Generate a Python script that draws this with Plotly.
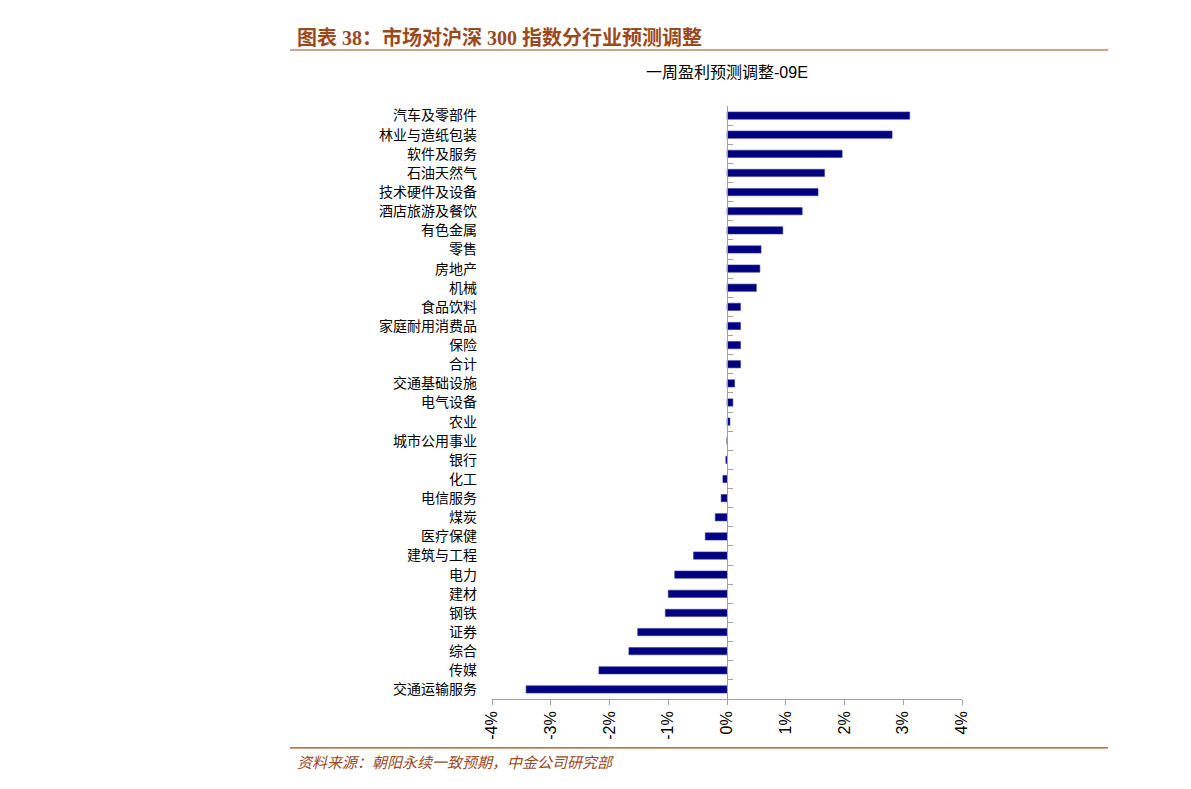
import plotly.graph_objects as go

categories = ["汽车及零部件", "林业与造纸包装", "软件及服务", "石油天然气", "技术硬件及设备",
              "酒店旅游及餐饮", "有色金属", "零售", "房地产", "机械", "食品饮料", "家庭耐用消费品",
              "保险", "合计", "交通基础设施", "电气设备", "农业", "城市公用事业", "银行", "化工",
              "电信服务", "煤炭", "医疗保健", "建筑与工程", "电力", "建材", "钢铁", "证券", "综合",
              "传媒", "交通运输服务"]
values = [3.11, 2.81, 1.96, 1.66, 1.55, 1.28, 0.95, 0.58, 0.56, 0.50, 0.23, 0.23,
          0.23, 0.23, 0.13, 0.10, 0.05, 0.0, -0.02, -0.07, -0.10, -0.20, -0.37, -0.57,
          -0.89, -1.00, -1.05, -1.52, -1.67, -2.18, -3.42]
x_ticks = [-4, -3, -2, -1, 0, 1, 2, 3, 4]
x_ticktext = ["-4%", "-3%", "-2%", "-1%", "0%", "1%", "2%", "3%", "4%"]

W, H = 1191, 789
L, R, T, B = 492, 962, 105.5, 698.6
BROWN = "#9A4A1F"
CJK = "Noto Sans CJK SC"

def px(xp):
    return (xp - L) / (R - L)

def py(yp):
    return (B - yp) / (B - T)

n = len(categories)
fig = go.Figure()
fig.add_trace(go.Bar(x=values, y=categories, orientation="h", width=0.38,
                     marker=dict(color="#000080", line=dict(color="#3a3aa0", width=0.6)),
                     yaxis="y", hoverinfo="skip", showlegend=False))
fig.add_trace(go.Scatter(x=[0] * n, y=categories, mode="markers", marker=dict(opacity=0),
                         yaxis="y2", hoverinfo="skip", showlegend=False))

fig.update_layout(
    width=W, height=H,
    margin=dict(l=L, r=W - R, t=T, b=H - B, autoexpand=False),
    paper_bgcolor="white", plot_bgcolor="white",
    xaxis=dict(range=[-4, 4], tickvals=x_ticks, ticktext=x_ticktext, tickangle=-90,
               showgrid=False, zeroline=False, showline=True, linecolor="#a0a0a0",
               linewidth=1, ticks="outside", ticklen=5, tickcolor="#a0a0a0",
               tickfont=dict(family="Liberation Sans, Arial", size=16, color="black")),
    yaxis=dict(type="category", categoryorder="array", categoryarray=categories,
               range=[n - 0.5, -0.5], showgrid=False, zeroline=False, showline=False,
               ticks="", ticklabelstandoff=14,
               tickfont=dict(family=CJK, size=14, color="black")),
    yaxis2=dict(type="category", categoryorder="array", categoryarray=categories,
                range=[n - 0.5, -0.5], overlaying="y", anchor="free", position=px(727.3),
                side="left", showticklabels=False, showgrid=False, zeroline=False,
                showline=True, linecolor="#a0a0a0", linewidth=1, ticks="inside",
                ticklen=5, tickcolor="#a0a0a0", tickson="boundaries"),
    shapes=[
        dict(type="line", xref="paper", yref="paper", x0=px(290), x1=px(1108),
             y0=py(49.5), y1=py(49.5), line=dict(color=BROWN, width=1.2)),
        dict(type="line", xref="paper", yref="paper", x0=px(290), x1=px(1108),
             y0=py(747.5), y1=py(747.5), line=dict(color=BROWN, width=1.2)),
    ],
    annotations=[
        dict(text="<b>图表 38：市场对沪深 300 指数分行业预测调整</b>", xref="paper", yref="paper",
             x=px(295), y=py(37), xanchor="left", yanchor="middle", showarrow=False,
             font=dict(family="Liberation Serif, " + CJK, size=20, color=BROWN)),
        dict(text="一周盈利预测调整-09E", xref="paper", yref="paper",
             x=px(727), y=py(72), xanchor="center", yanchor="middle", showarrow=False,
             font=dict(family="Liberation Sans, " + CJK, size=16, color="black")),
        dict(text="资料来源：朝阳永续一致预期，中金公司研究部", xref="paper", yref="paper",
             x=px(295), y=py(761), xanchor="left", yanchor="middle", showarrow=False,
             font=dict(family=CJK, size=15, color=BROWN, style="italic")),
    ],
)

fig.write_html("out.html")
